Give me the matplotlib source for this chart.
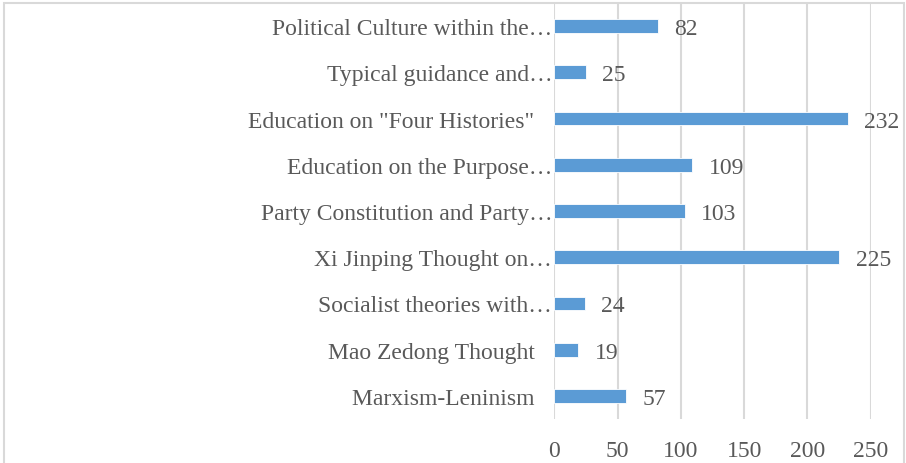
import matplotlib.pyplot as plt
from matplotlib.patches import Rectangle

# data, bottom to top as drawn
categories = [
    "Marxism-Leninism   ",
    "Mao Zedong Thought   ",
    "Socialist theories with\u2026",
    "Xi Jinping Thought on\u2026",
    "Party Constitution and Party\u2026",
    "Education on the Purpose\u2026",
    "Education on \"Four Histories\"   ",
    "Typical guidance and\u2026",
    "Political Culture within the\u2026",
]
values = [57, 19, 24, 225, 103, 109, 232, 25, 82]
xticks = [0, 50, 100, 150, 200, 250]

TEXT_COLOR = "#595959"
BAR_COLOR = "#5B9BD5"
GRID_COLOR = "#D9D9D9"

plt.rcParams["font.family"] = ["Liberation Serif", "DejaVu Serif"]

fig = plt.figure(figsize=(9.06, 4.64), dpi=100)
ax = fig.add_axes([554.3 / 906, 1 - 420 / 464, (870.7 - 554.3) / 906, (420 - 4) / 464])

y = list(range(len(categories)))
ax.barh(y, values, height=0.30, color=BAR_COLOR, edgecolor="white", linewidth=0.6, zorder=3)

for yi, v in zip(y, values):
    ax.text(v + 13.0, yi, str(v), va="center_baseline", ha="left", fontsize=17, color=TEXT_COLOR)

ax.set_xlim(0, 250)
ax.set_ylim(-0.5, len(categories) - 0.5)
ax.set_xticks(xticks)
ax.set_yticks(y)
ax.set_yticklabels(categories, va="center_baseline")
ax.tick_params(axis="both", length=0, labelsize=17, colors=TEXT_COLOR)
ax.tick_params(axis="y", pad=1.5)
ax.tick_params(axis="x", pad=15)
ax.grid(axis="x", color=GRID_COLOR, linewidth=1.5, zorder=0)
for s in ax.spines.values():
    s.set_visible(False)

# outer chart border (bottom edge is cut off in the original)
fig.patches.append(Rectangle((4 / 906, -0.05), 900 / 906, 1.05 - 4 / 464,
                             transform=fig.transFigure, fill=False,
                             edgecolor=GRID_COLOR, linewidth=1.5))

fig.savefig("out.png", dpi=100)
